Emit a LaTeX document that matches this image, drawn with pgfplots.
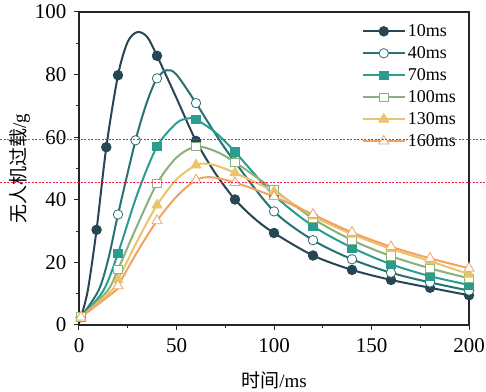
\documentclass[border=0pt]{standalone}
\usepackage{fontspec}
\setmainfont{Liberation Serif}
\newfontfamily\cjk{Noto Sans CJK SC}
\usepackage{pgfplots}
\pgfplotsset{compat=1.18}
\definecolor{c1}{HTML}{264653}
\definecolor{c2}{HTML}{287271}
\definecolor{c3}{HTML}{2A9D8F}
\definecolor{c4}{HTML}{8AB17D}
\definecolor{c5}{HTML}{E9C46A}
\definecolor{c6}{HTML}{F4A261}
\definecolor{rl}{HTML}{F0204A}
\pgfplotsset{
 s1/.style={c1, line width=2pt, mark=*, mark size=4.7pt, mark options={solid, fill=c1, draw=c1, line width=1pt}},
 s2/.style={c2, line width=2pt, mark=*, mark size=4.7pt, mark options={solid, fill=white, draw=c2, line width=0.8pt}},
 s3/.style={c3, line width=2pt, mark=square*, mark size=4.3pt, mark options={solid, fill=c3, draw=c3, line width=0.8pt}},
 s4/.style={c4, line width=2pt, mark=square*, mark size=4.3pt, mark options={solid, fill=white, draw=c4, line width=0.8pt}},
 s5/.style={c5, line width=2pt, mark=triangle*, mark size=5.8pt, mark options={solid, fill=c5, draw=c5, line width=0.8pt}},
 s6/.style={c6, line width=2pt, mark=triangle*, mark size=5.8pt, mark options={solid, fill=white, draw=c6, line width=0.8pt}},
}
\begin{document}
\begin{tikzpicture}
\begin{axis}[
 name=ax,
 scale only axis, width=390pt, height=313pt,
 xmin=0, xmax=200, ymin=0, ymax=100,
 xtick={0,50,...,200}, ytick={0,20,...,100},
 minor xtick={25,75,125,175}, minor ytick={10,30,50,70,90},
 xtick pos=bottom, ytick pos=left, tick align=outside,
 major tick length=5pt, minor tick length=3pt,
 axis line style={line width=1.2pt, black!85},
 every tick/.style={line width=1pt, black!85},
 tick label style={font=\fontsize{21}{21}\selectfont},
 xticklabel style={yshift=-5pt},
 yticklabel style={xshift=-4pt},
 /pgf/number format/assume math mode=true,
 xlabel={{\cjk 时间}/ms},
 ylabel={{\cjk 无人机过载}/g},
 label style={font=\fontsize{19}{19}\selectfont},
 xlabel style={yshift=-12pt},
 ylabel style={yshift=-2pt},
 clip=false,
 legend style={draw=none, fill=none, at={(rel axis cs:0.722,0.97)}, anchor=north west,
   font=\fontsize{18}{18}\selectfont, row sep=4.5pt, inner sep=1pt},
 legend cell align=left,
 legend image code/.code={\draw[mark repeat=2,mark phase=2] plot coordinates {(0pt,0pt)(21pt,0pt)(42pt,0pt)};},
]
\addlegendimage{s1}\addlegendentry{10ms}
\addlegendimage{s2}\addlegendentry{40ms}
\addlegendimage{s3}\addlegendentry{70ms}
\addlegendimage{s4}\addlegendentry{100ms}
\addlegendimage{s5}\addlegendentry{130ms}
\addlegendimage{s6}\addlegendentry{160ms}

% 10ms
\addplot[s1, no markers, smooth, tension=0.5, forget plot] coordinates {(1,2.5)(4.5,11)(9,30.4)(14,56.8)(20,79.8)(25,90.5)(30,93.6)(35,92)(40,86)(50,72.5)(60,58.8)(70,48.4)(80,40.1)(90,34)(100,29.4)(120,22.2)(140,17.6)(160,14.4)(180,11.9)(200,9.5)};
\addplot[s1, only marks, forget plot] coordinates {(1,2.5)(9,30.4)(14,56.8)(20,79.8)(40,86)(60,58.8)(80,40.1)(100,29.4)(120,22.2)(140,17.6)(160,14.4)(180,11.9)(200,9.5)};
% 40ms
\addplot[s2, no markers, smooth, tension=0.5, forget plot] coordinates {(1,2.5)(10,11)(15,21)(20,35.3)(29,59)(35,71.5)(40,78.8)(45,81.4)(50,80)(60,70.9)(70,61)(80,52)(100,36.3)(120,27.1)(140,21)(160,16.7)(180,13.6)(200,11)};
\addplot[s2, only marks, forget plot] coordinates {(1,2.5)(20,35.3)(29,59)(40,78.8)(60,70.9)(80,52)(100,36.3)(120,27.1)(140,21)(160,16.7)(180,13.6)(200,11)};
% 70ms
\addplot[s3, no markers, smooth, tension=0.5, forget plot] coordinates {(1,2.5)(12.5,11)(20,22.9)(30,42)(40,57)(50,64.5)(56,66)(60,65.7)(70,61.5)(80,55.3)(100,41.5)(120,31.6)(140,24.7)(160,19.4)(180,15.6)(200,12.8)};
\addplot[s3, only marks, forget plot] coordinates {(1,2.5)(20,22.9)(40,57)(60,65.7)(80,55.3)(100,41.5)(120,31.6)(140,24.7)(160,19.4)(180,15.6)(200,12.8)};
% 100ms
\addplot[s4, no markers, smooth, tension=0.5, forget plot] coordinates {(1,2.5)(14.7,11)(20,17.8)(30,32)(40,45.2)(50,53.5)(60,57)(70,55.5)(80,52)(100,43.2)(120,34)(140,27.1)(160,22)(180,18.1)(200,14.9)};
\addplot[s4, only marks, forget plot] coordinates {(1,2.5)(20,17.8)(40,45.2)(60,57)(80,52)(100,43.2)(120,34)(140,27.1)(160,22)(180,18.1)(200,14.9)};
% 130ms
\addplot[s5, no markers, smooth, tension=0.5, forget plot] coordinates {(1,2.5)(16.7,11)(20,14.4)(30,27)(40,38.3)(50,46.5)(60,51.1)(65,51.5)(70,51)(80,48.6)(100,42.6)(120,34.8)(140,29)(160,24.3)(180,20.4)(200,16.2)};
\addplot[s5, only marks, forget plot] coordinates {(1,2.5)(20,14.4)(40,38.3)(60,51.1)(80,48.6)(100,42.6)(120,34.8)(140,29)(160,24.3)(180,20.4)(200,16.2)};
% 160ms
\addplot[s6, no markers, smooth, tension=0.5, forget plot] coordinates {(1,2.5)(18.8,11)(20,12.5)(30,23.5)(40,33.3)(50,41)(60,46.3)(68,47.2)(80,45.5)(100,41)(120,35.3)(140,29.6)(160,25)(180,21.3)(200,18.1)};
\addplot[s6, only marks, forget plot] coordinates {(1,2.5)(20,12.5)(40,33.3)(60,46.3)(80,45.5)(100,41)(120,35.3)(140,29.6)(160,25)(180,21.3)(200,18.1)};

\coordinate (r1a) at (axis cs:-40.5,59.4);
\coordinate (r1b) at (axis cs:208.7,59.4);
\coordinate (r2a) at (axis cs:-40.5,45.7);
\coordinate (r2b) at (axis cs:208.7,45.7);
\end{axis}
\draw[rl, dash pattern=on 2pt off 1.5pt, line width=0.75pt] (r1a) -- (r1b);
\draw[rl, dash pattern=on 2pt off 1.5pt, line width=0.75pt] (r2a) -- (r2b);
\pgfresetboundingbox
\path ([shift={(-79pt,-67pt)}]ax.south west) rectangle ([shift={(17pt,12pt)}]ax.north east);
\end{tikzpicture}
\end{document}
